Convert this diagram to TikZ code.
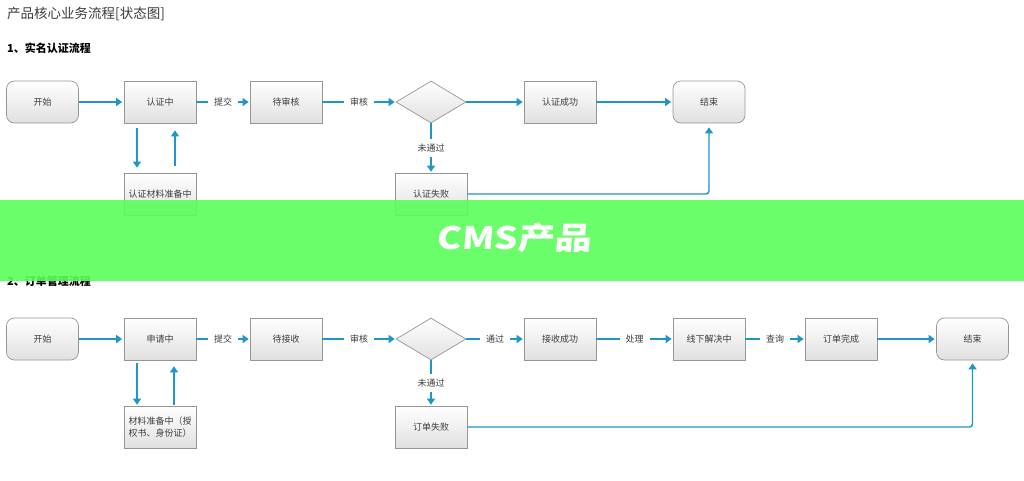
\documentclass[tikz,border=0pt]{standalone}
\usepackage{fontspec}
\setmainfont{Noto Sans CJK SC}
\newfontfamily\bannerfont[FakeSlant=0.07]{Noto Sans CJK SC}
\usetikzlibrary{shapes.geometric,arrows.meta}

\definecolor{flowblue}{RGB}{30,150,200}
\definecolor{boxgray}{RGB}{150,150,150}
\definecolor{boxbot}{RGB}{224,224,224}
\definecolor{txtgray}{RGB}{60,60,60}
\definecolor{bannergreen}{RGB}{90,255,90}

\tikzset{
  state/.style={draw=boxgray, line width=0.7pt, top color=white, bottom color=boxbot,
    minimum width=72pt, minimum height=42pt, inner sep=2pt, text=txtgray,
    font=\fontsize{9}{12}\selectfont, align=center},
  endstate/.style={state, rounded corners=8pt},
  choice/.style={diamond, draw=boxgray, line width=0.7pt, top color=white, bottom color=boxbot,
    minimum width=70pt, minimum height=42pt, inner sep=0pt},
  flow/.style={draw=flowblue, line width=1.4pt, -{Triangle[length=6pt,width=8pt]}},
  lbl/.style={fill=white, text=txtgray, font=\fontsize{9}{11}\selectfont, inner xsep=6pt, inner ysep=2pt},
  head/.style={anchor=west, font=\fontsize{11}{13}\selectfont\bfseries, text=black}
}

\begin{document}
\begin{tikzpicture}[x=1pt, y=-1pt]
  \useasboundingbox (0,0) rectangle (1024,480);
  \fill[white] (0,0) rectangle (1024,480);

  \node[anchor=west, text=txtgray, font=\fontsize{13.5}{15}\selectfont, inner sep=0pt] (title) at (7,14) {产品核心业务流程[状态图]};

  % 1 实名认证
  \node[head, inner sep=0pt] (h1) at (7,48) {1、实名认证流程};

  \node[endstate] (start1) at (42.5,102) {开始};
  \node[state] (rz) at (160,102) {认证中};
  \node[state] (dsh) at (286,102) {待审核};
  \node[choice] (ch1) at (431,102) {};
  \node[state] (ok1) at (560,102) {认证成功};
  \node[endstate] (end1) at (709,102) {结束};
  \node[state] (cl) at (160,194) {认证材料准备中};
  \node[state] (fail1) at (431,194) {认证失败};

  \draw[flow, shorten >=1.5pt] (start1) -- (rz);
  \draw[flow, shorten >=1pt] (rz) -- node[lbl]{提交} (dsh);
  \draw[flow, shorten >=1pt] (dsh) -- node[lbl]{审核} (ch1);
  \draw[flow, shorten >=1pt] (ch1) -- (ok1);
  \draw[flow, shorten >=1.5pt] (ok1) -- (end1);
  \draw[flow, shorten >=1pt] (ch1) -- node[lbl, inner xsep=2pt, inner ysep=5pt]{未通过} (fail1);
  \draw[flow, shorten <=5pt, shorten >=5pt] ([xshift=-23pt]rz.south) -- ([xshift=-23pt]cl.north);
  \draw[flow, shorten <=7pt, shorten >=7pt] ([xshift=15pt]cl.north) -- ([xshift=15pt]rz.south);
  \draw[flow, rounded corners=3pt, shorten >=4pt] (fail1.east) -| (end1.south);

  % 2 订单管理
  \node[head, inner sep=0pt] (h2) at (7,281) {2、订单管理流程};

  \node[endstate] (start2) at (42.5,339) {开始};
  \node[state] (sq) at (160,339) {申请中};
  \node[state] (djs) at (286,339) {待接收};
  \node[choice] (ch2) at (431,339) {};
  \node[state] (ok2) at (560,339) {接收成功};
  \node[state] (xx) at (709,339) {线下解决中};
  \node[state] (done) at (841,339) {订单完成};
  \node[endstate] (end2) at (972.5,339) {结束};
  \node[state] (cl2) at (160,427) {材料准备中（授\\权书、身份证）};
  \node[state] (fail2) at (431,427) {订单失败};

  \draw[flow, shorten >=1.5pt] (start2) -- (sq);
  \draw[flow, shorten >=1pt] (sq) -- node[lbl]{提交} (djs);
  \draw[flow, shorten >=1pt] (djs) -- node[lbl]{审核} (ch2);
  \draw[flow, shorten >=1pt] (ch2) -- node[lbl]{通过} (ok2);
  \draw[flow, shorten >=1pt] (ok2) -- node[lbl]{处理} (xx);
  \draw[flow, shorten >=1pt] (xx) -- node[lbl]{查询} (done);
  \draw[flow, shorten >=1.5pt] (done) -- (end2);
  \draw[flow, shorten >=1pt] (ch2) -- node[lbl, inner xsep=2pt, inner ysep=5pt]{未通过} (fail2);
  \draw[flow, shorten <=3pt, shorten >=1pt] ([xshift=-23pt]sq.south) -- ([xshift=-23pt]cl2.north);
  \draw[flow, shorten <=1pt, shorten >=6pt] ([xshift=14pt]cl2.north) -- ([xshift=14pt]sq.south);
  \draw[flow, rounded corners=3pt, shorten >=3pt] (fail2.east) -| (end2.south);

  % banner
  \fill[bannergreen, fill opacity=0.9] (0,200) rectangle (1024,281);
  \node[text=white, font=\bannerfont\fontsize{31}{33}\selectfont\bfseries, xscale=1.2] (banner) at (514,238) {CMS产品};
\end{tikzpicture}
\end{document}
